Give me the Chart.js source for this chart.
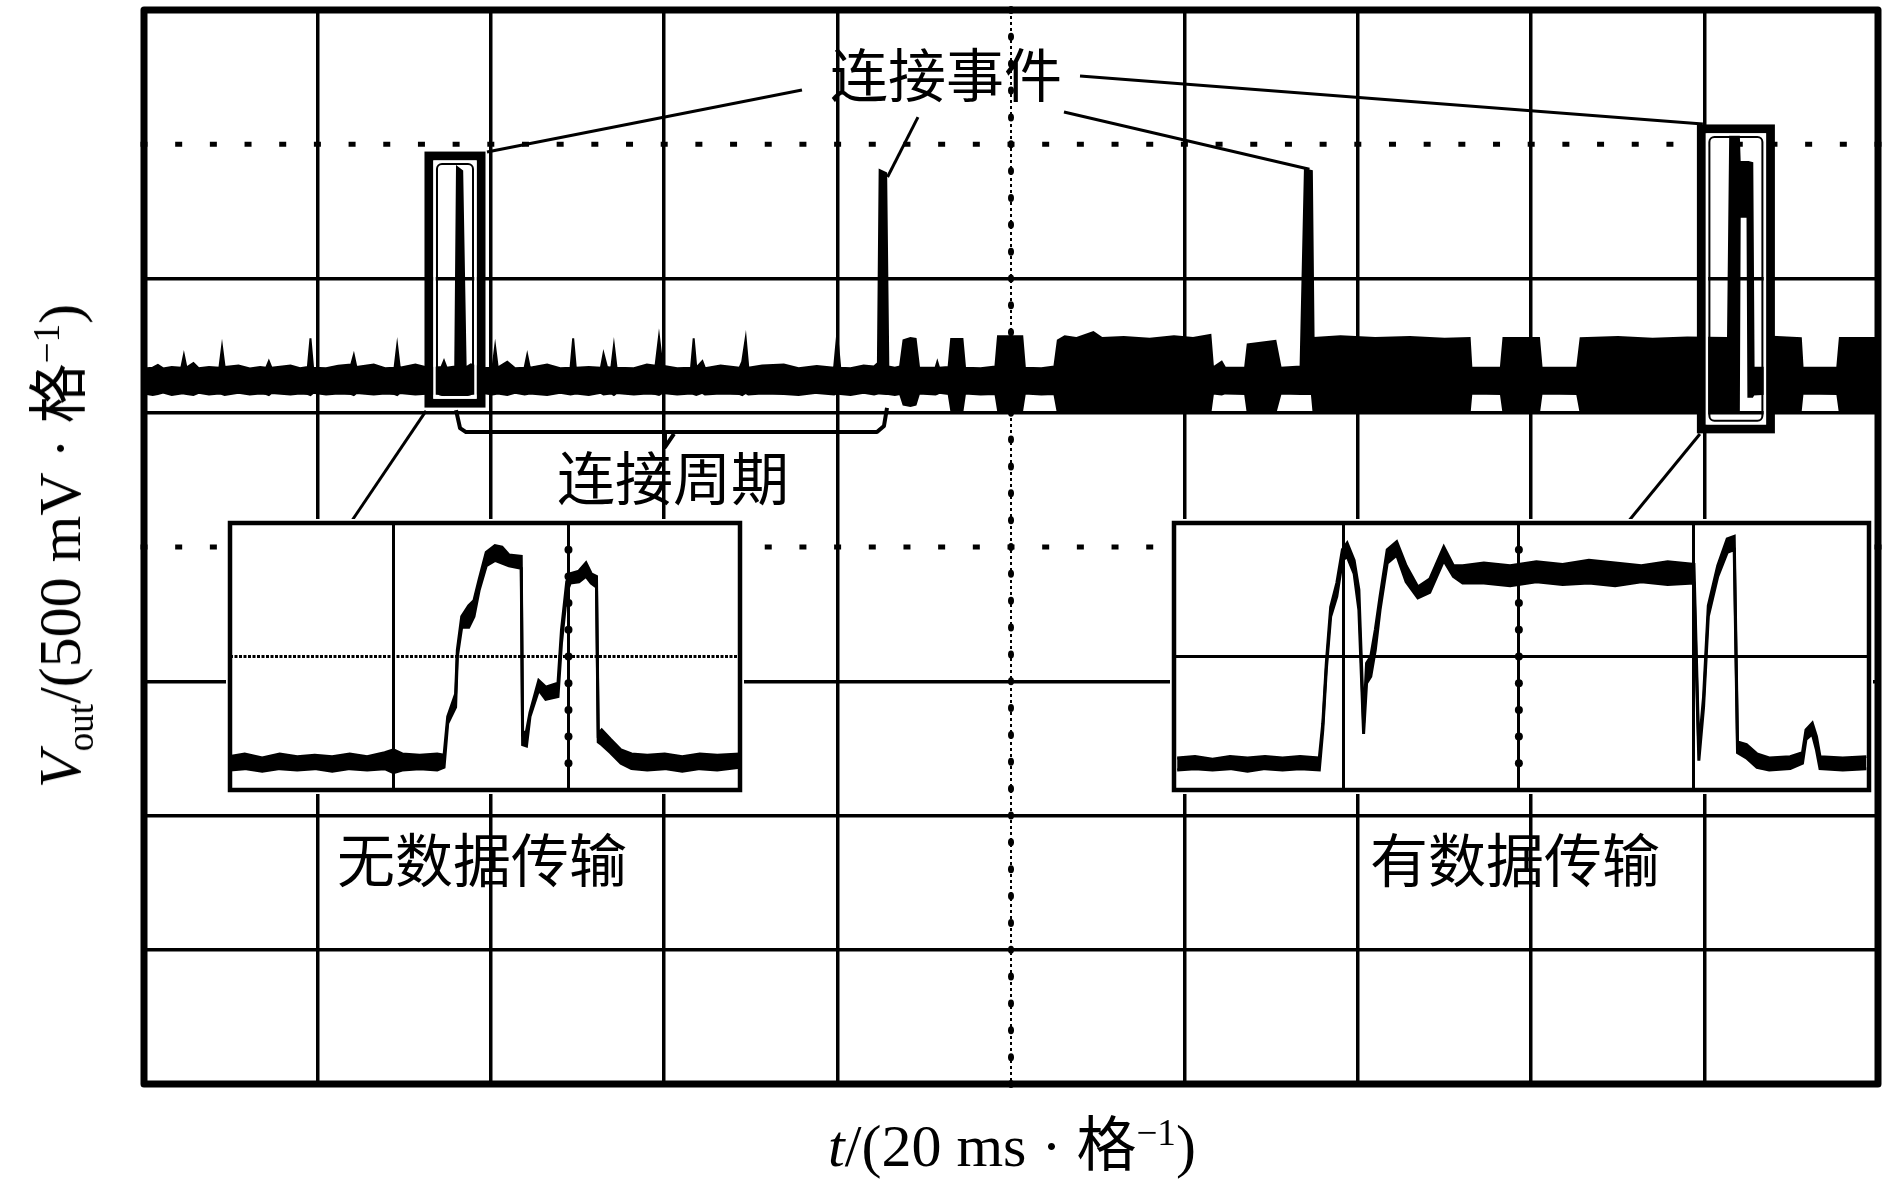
<!DOCTYPE html>
<html lang="zh-CN">
<head>
<meta charset="utf-8">
<title>连接事件波形</title>
<script src="https://cdn.jsdelivr.net/npm/chart.js@4.4.1/dist/chart.umd.min.js"></script>
<style>
  html, body { margin: 0; padding: 0; background: #fff; }
  body { width: 1896px; height: 1183px; position: relative; overflow: hidden; color: #000;
         font-family: "Liberation Serif", "Noto Sans CJK SC", serif; }
  canvas { position: absolute; }
  #mainChart { left: 0; top: 0; }
  #insetLeft { left: 226px; top: 519px; }
  #insetRight { left: 1170px; top: 519px; }
  .label { position: absolute; font-family: "Noto Sans CJK SC", sans-serif; font-size: 58px;
           line-height: 1; white-space: nowrap; transform: translate(-50%, -50%); }
  .axis-title { position: absolute; font-size: 60px; line-height: 1; white-space: nowrap;
                transform: translate(-50%, -50%); }
  sub, sup { font-size: 0.62em; line-height: 0; }
</style>
</head>
<body>
<canvas id="mainChart" width="1896" height="1183"></canvas>
<canvas id="insetLeft" width="518" height="275"></canvas>
<canvas id="insetRight" width="703" height="275"></canvas>

<div class="label" style="left:946px; top:72px;">连接事件</div>
<div class="label" style="left:673px; top:475px;">连接周期</div>
<div class="label" style="left:482px; top:857px;">无数据传输</div>
<div class="label" style="left:1515px; top:857px;">有数据传输</div>
<div class="axis-title" style="left:1012px; top:1146px;"><i>t</i>/(20 ms · 格<sup>−1</sup>)</div>
<div class="axis-title" style="left:60px; top:546px; transform: translate(-50%, -50%) rotate(-90deg);"><i>V</i><sub>out</sub>/(500 mV · 格<sup>−1</sup>)</div>

<script>
// main trace: time (ms), upper and lower edge of the trace band (V)
const mainT = [
  0.0, 1.0, 1.6, 2.2, 3.2, 4.3, 4.6, 4.9, 5.7, 6.3,
  7.5, 8.7, 9.0, 9.3, 10.9, 12.2, 13.4, 14.1, 14.4, 14.7,
  16.9, 18.0, 18.9, 19.2, 19.5, 21.0, 22.4, 23.9, 24.2, 24.5,
  26.5, 27.8, 28.9, 29.2, 29.5, 31.3, 33.0, 34.3, 34.6, 34.9,
  35.9, 36.1, 36.7, 37.1, 37.7, 38.9, 40.2, 40.5, 40.8, 41.9,
  42.8, 43.9, 44.2, 44.5, 46.5, 48.0, 49.2, 49.5, 49.8, 51.3,
  52.7, 53.0, 53.4, 53.9, 54.2, 54.5, 56.5, 58.0, 59.0, 59.4,
  59.8, 61.5, 63.1, 63.4, 63.7, 64.4, 64.7, 66.5, 68.7, 69.0,
  69.4, 69.7, 71.3, 73.8, 75.5, 77.6, 79.6, 79.95, 80.3, 81.5,
  83.0, 84.2, 84.65, 84.85, 85.6, 85.85, 86.6, 87.2, 87.6, 88.4,
  89.0, 89.4, 91.3, 91.5, 91.7, 92.8, 93.1, 94.4, 94.7, 96.5,
  98.2, 98.5, 101.3, 101.6, 103.5, 105.0, 105.4, 106.2, 107.5, 109.5,
  110.5, 113.0, 116.0, 118.8, 121.0, 123.0, 123.3, 124.3, 124.7, 127.0,
  127.3, 130.5, 131.1, 133.4, 133.9, 134.7, 134.9, 138.0, 142.0, 146.0,
  150.0, 152.9, 153.1, 156.5, 156.8, 160.9, 161.2, 165.3, 165.7, 170.0,
  174.0, 178.0, 182.7, 182.95, 183.95, 184.05, 184.95, 185.05, 185.5, 185.65,
  187.6, 187.9, 191.1, 191.3, 195.3, 195.6, 200.0
];
const mainHi = [
  0.665, 0.668, 0.678, 0.665, 0.670, 0.668, 0.715, 0.668, 0.685, 0.666,
  0.670, 0.668, 0.746, 0.670, 0.676, 0.665, 0.670, 0.668, 0.692, 0.668,
  0.676, 0.666, 0.670, 0.777, 0.668, 0.666, 0.675, 0.680, 0.715, 0.670,
  0.680, 0.666, 0.668, 0.750, 0.668, 0.680, 0.666, 0.670, 0.694, 0.668,
  0.672, 1.415, 1.400, 0.668, 0.680, 0.666, 0.668, 0.746, 0.668, 0.690,
  0.666, 0.668, 0.715, 0.668, 0.680, 0.666, 0.668, 0.777, 0.668, 0.670,
  0.668, 0.720, 0.670, 0.668, 0.750, 0.668, 0.666, 0.680, 0.675, 0.783,
  0.675, 0.666, 0.668, 0.777, 0.668, 0.692, 0.666, 0.676, 0.668, 0.690,
  0.777, 0.668, 0.676, 0.680, 0.666, 0.674, 0.668, 0.790, 0.668, 0.666,
  0.676, 0.672, 0.685, 1.404, 1.392, 0.672, 0.668, 0.672, 0.770, 0.778,
  0.775, 0.668, 0.668, 0.690, 0.668, 0.670, 0.775, 0.775, 0.668, 0.666,
  0.672, 0.785, 0.785, 0.668, 0.666, 0.672, 0.770, 0.785, 0.778, 0.800,
  0.778, 0.782, 0.776, 0.785, 0.778, 0.790, 0.668, 0.690, 0.668, 0.668,
  0.755, 0.768, 0.668, 0.672, 1.406, 1.400, 0.778, 0.785, 0.778, 0.782,
  0.776, 0.778, 0.668, 0.668, 0.778, 0.778, 0.668, 0.668, 0.778, 0.782,
  0.776, 0.780, 0.778, 1.530, 1.530, 1.434, 1.434, 1.434, 1.430, 0.668,
  0.668, 0.783, 0.778, 0.668, 0.668, 0.778, 0.778
];
const mainLo = [
  0.572, 0.566, 0.570, 0.575, 0.566, 0.572, 0.572, 0.570, 0.566, 0.574,
  0.568, 0.572, 0.570, 0.566, 0.574, 0.568, 0.572, 0.570, 0.566, 0.574,
  0.568, 0.572, 0.570, 0.566, 0.574, 0.568, 0.572, 0.570, 0.566, 0.574,
  0.568, 0.572, 0.570, 0.566, 0.574, 0.568, 0.572, 0.570, 0.566, 0.574,
  0.568, 0.568, 0.568, 0.572, 0.570, 0.574, 0.568, 0.570, 0.572, 0.566,
  0.574, 0.568, 0.570, 0.572, 0.566, 0.574, 0.568, 0.570, 0.572, 0.566,
  0.574, 0.568, 0.570, 0.572, 0.566, 0.574, 0.568, 0.572, 0.570, 0.566,
  0.574, 0.568, 0.572, 0.570, 0.566, 0.574, 0.568, 0.572, 0.570, 0.566,
  0.574, 0.568, 0.572, 0.570, 0.566, 0.574, 0.568, 0.572, 0.570, 0.566,
  0.574, 0.568, 0.572, 0.572, 0.570, 0.570, 0.566, 0.570, 0.530, 0.525,
  0.530, 0.572, 0.568, 0.570, 0.574, 0.570, 0.510, 0.505, 0.572, 0.568,
  0.570, 0.510, 0.510, 0.572, 0.568, 0.570, 0.500, 0.500, 0.505, 0.500,
  0.505, 0.500, 0.505, 0.500, 0.505, 0.500, 0.572, 0.568, 0.572, 0.570,
  0.500, 0.500, 0.572, 0.570, 0.570, 0.570, 0.500, 0.505, 0.500, 0.505,
  0.500, 0.500, 0.572, 0.570, 0.500, 0.500, 0.572, 0.570, 0.500, 0.505,
  0.500, 0.500, 0.500, 0.500, 0.500, 1.230, 1.230, 0.560, 0.560, 0.568,
  0.572, 0.510, 0.510, 0.572, 0.570, 0.500, 0.500
];

// left inset (no data): x in divisions, upper / lower edge in divisions
const leftX = [
  0.066, 0.15, 0.25, 0.35, 0.45, 0.55, 0.65, 0.75, 0.85, 0.95,
  1.0, 1.05, 1.15, 1.25, 1.289, 1.31, 1.355, 1.365, 1.39, 1.43,
  1.46, 1.49, 1.53, 1.58, 1.62, 1.66, 1.73, 1.738, 1.76, 1.78,
  1.83, 1.87, 1.94, 1.96, 1.99, 2.01, 2.06, 2.10, 2.13, 2.16,
  2.17, 2.19, 2.24, 2.30, 2.36, 2.45, 2.55, 2.65, 2.75, 2.85,
  2.98
];
const leftHi = [
  0.25, 0.27, 0.24, 0.27, 0.25, 0.26, 0.25, 0.27, 0.25, 0.28,
  0.30, 0.27, 0.26, 0.27, 0.26, 0.55, 0.72, 1.05, 1.30, 1.38,
  1.42, 1.58, 1.78, 1.83, 1.82, 1.76, 1.75, 0.42, 0.44, 0.58,
  0.82, 0.77, 0.80, 1.20, 1.56, 1.62, 1.64, 1.70, 1.62, 1.60,
  0.42, 0.45, 0.38, 0.30, 0.27, 0.26, 0.27, 0.25, 0.27, 0.26,
  0.27
];
const leftLo = [
  0.15, 0.16, 0.14, 0.16, 0.15, 0.16, 0.14, 0.16, 0.15, 0.16,
  0.13, 0.15, 0.16, 0.15, 0.17, 0.50, 0.62, 1.00, 1.22, 1.22,
  1.30, 1.50, 1.68, 1.72, 1.70, 1.68, 1.66, 0.34, 0.33, 0.55,
  0.75, 0.68, 0.70, 1.10, 1.48, 1.55, 1.56, 1.60, 1.55, 1.52,
  0.36, 0.34, 0.28, 0.20, 0.16, 0.15, 0.16, 0.14, 0.16, 0.15,
  0.17
];

// right inset (with data)
const rightX = [
  0.048, 0.15, 0.25, 0.35, 0.45, 0.55, 0.65, 0.75, 0.86, 0.88,
  0.90, 0.925, 0.96, 0.992, 1.019, 1.059, 1.086, 1.113, 1.13, 1.154,
  1.18, 1.207, 1.248, 1.302, 1.356, 1.423, 1.491, 1.571, 1.626, 1.679,
  1.8, 1.95, 2.1, 2.25, 2.4, 2.55, 2.7, 2.85, 3.0, 3.028,
  3.055, 3.082, 3.136, 3.19, 3.23, 3.249, 3.30, 3.36, 3.43, 3.55,
  3.62, 3.64, 3.676, 3.70, 3.72, 3.85, 3.985
];
const rightHi = [
  0.24, 0.25, 0.23, 0.25, 0.24, 0.25, 0.24, 0.25, 0.24, 0.50,
  0.95, 1.37, 1.55, 1.80, 1.85, 1.72, 1.50, 0.50, 0.95, 1.00,
  1.20, 1.45, 1.80, 1.86, 1.68, 1.52, 1.58, 1.82, 1.68, 1.68,
  1.70, 1.68, 1.71, 1.69, 1.72, 1.70, 1.68, 1.71, 1.69, 0.30,
  0.70, 1.38, 1.68, 1.88, 1.90, 0.36, 0.34, 0.27, 0.24, 0.25,
  0.28, 0.45, 0.50, 0.40, 0.25, 0.24, 0.25
];
const rightLo = [
  0.15, 0.16, 0.15, 0.16, 0.14, 0.16, 0.15, 0.16, 0.15, 0.45,
  0.90, 1.30, 1.45, 1.72, 1.75, 1.62, 1.35, 0.42, 0.80, 0.85,
  1.05, 1.35, 1.70, 1.76, 1.56, 1.44, 1.48, 1.72, 1.60, 1.55,
  1.55, 1.53, 1.56, 1.54, 1.55, 1.53, 1.56, 1.54, 1.55, 0.22,
  0.62, 1.30, 1.60, 1.78, 1.80, 0.28, 0.24, 0.17, 0.15, 0.16,
  0.20, 0.38, 0.42, 0.30, 0.16, 0.15, 0.16
];

// graticule: 20 ms and 0.5 V per division
const xGridTicks = [20, 40, 60, 80, 120, 140, 160, 180];
const yGridTicks = [-1.5, -1.0, -0.5, 0.5, 1.0];
const dottedLevels = [1.5, 0];
const centerTime = 100;

// annotations, in data units (ms, V)
const eventBoxes = [
  { t0: 32.87, t1: 38.87, v0: 0.536, v1: 1.456 },
  { t0: 179.63, t1: 187.59, v0: 0.440, v1: 1.557 },
];
const leaderLines = [
  [75.89, 1.702, 39.56, 1.471],
  [89.27, 1.601, 85.76, 1.378],
  [106.11, 1.620, 134.42, 1.407],
  [107.96, 1.754, 179.80, 1.575],
  [32.53, 0.507, 23.88, 0.093],
  [179.46, 0.421, 171.15, 0.093],
];
const bracketPath = [
  [35.99, 0.510], [36.45, 0.443], [37.14, 0.428], [84.54, 0.428], [85.35, 0.451], [85.70, 0.518]
];
const bracketTick = [[60.09, 0.428], [60.09, 0.372], [61.13, 0.421]];

function toPoints(xs, ys) {
  return xs.map((v, i) => ({ x: v, y: ys[i] }));
}

function traceDatasets(xs, hi, lo, width) {
  return [
    {
      label: "upper",
      data: toPoints(xs, hi),
      borderColor: "#000",
      backgroundColor: "#000",
      borderWidth: width,
      fill: "+1",
      pointRadius: 0,
      tension: 0,
    },
    {
      label: "lower",
      data: toPoints(xs, lo),
      borderColor: "#000",
      borderWidth: width,
      fill: false,
      pointRadius: 0,
      tension: 0,
    },
  ];
}

// dotted lines, boxes, leader lines and the frame of the main screen
const scopeMarks = {
  id: "scopeMarks",
  beforeDatasetsDraw(chart) {
    const { ctx, chartArea: a, scales: { x, y } } = chart;
    ctx.save();
    ctx.fillStyle = "#000";
    dottedLevels.forEach((v) => {
      const py = y.getPixelForValue(v);
      for (let t = 0; t <= 200; t += 4) {
        ctx.fillRect(x.getPixelForValue(t) - 3.5, py - 2.5, 7, 5);
      }
    });
    const cx = x.getPixelForValue(centerTime);
    ctx.strokeStyle = "#000";
    ctx.lineWidth = 2;
    ctx.setLineDash([3, 3]);
    ctx.beginPath();
    ctx.moveTo(cx, a.top);
    ctx.lineTo(cx, a.bottom);
    ctx.stroke();
    ctx.setLineDash([]);
    for (let k = -20; k <= 20; k++) {
      ctx.beginPath();
      ctx.ellipse(cx, y.getPixelForValue(k * 0.1), 3, 4, 0, 0, Math.PI * 2);
      ctx.fill();
    }
    ctx.restore();
  },
  afterDatasetsDraw(chart) {
    const { ctx, chartArea: a, scales: { x, y } } = chart;
    ctx.save();
    eventBoxes.forEach((b) => {
      const x0 = x.getPixelForValue(b.t0);
      const x1 = x.getPixelForValue(b.t1);
      const y0 = y.getPixelForValue(b.v1);
      const y1 = y.getPixelForValue(b.v0);
      ctx.strokeStyle = "#000";
      ctx.lineWidth = 9;
      ctx.strokeRect(x0, y0, x1 - x0, y1 - y0);
      ctx.strokeStyle = "#fff";
      ctx.lineWidth = 2.5;
      ctx.strokeRect(x0 + 5.5, y0 + 5.5, x1 - x0 - 11, y1 - y0 - 11);
      ctx.strokeStyle = "#000";
      ctx.lineWidth = 2;
      ctx.beginPath();
      ctx.roundRect(x0 + 8, y0 + 8, x1 - x0 - 16, y1 - y0 - 16, 5);
      ctx.stroke();
    });

    ctx.strokeStyle = "#000";
    ctx.lineWidth = 3;
    leaderLines.forEach(([t0, v0, t1, v1]) => {
      ctx.beginPath();
      ctx.moveTo(x.getPixelForValue(t0), y.getPixelForValue(v0));
      ctx.lineTo(x.getPixelForValue(t1), y.getPixelForValue(v1));
      ctx.stroke();
    });

    ctx.lineWidth = 4;
    ctx.lineJoin = "round";
    [bracketPath, bracketTick].forEach((path) => {
      ctx.beginPath();
      path.forEach(([t, v], i) => {
        const px = x.getPixelForValue(t);
        const py = y.getPixelForValue(v);
        if (i === 0) ctx.moveTo(px, py);
        else ctx.lineTo(px, py);
      });
      ctx.stroke();
    });

    ctx.lineWidth = 7;
    ctx.strokeRect(a.left, a.top, a.right - a.left, a.bottom - a.top);
    ctx.restore();
  },
};

// white screen, marked centre line and frame of an inset
const insetMarks = {
  id: "insetMarks",
  beforeDraw(chart) {
    const { ctx } = chart;
    ctx.save();
    ctx.fillStyle = "#fff";
    ctx.fillRect(0, 0, chart.width, chart.height);
    ctx.restore();
  },
  beforeDatasetsDraw(chart) {
    const { ctx, scales: { x, y } } = chart;
    const cx = x.getPixelForValue(2);
    ctx.save();
    ctx.fillStyle = "#000";
    for (let k = 1; k < 10; k++) {
      ctx.beginPath();
      ctx.ellipse(cx, y.getPixelForValue(k * 0.2), 4, 4, 0, 0, Math.PI * 2);
      ctx.fill();
    }
    ctx.restore();
  },
  afterDatasetsDraw(chart) {
    const { ctx, chartArea: a } = chart;
    ctx.save();
    ctx.strokeStyle = "#000";
    ctx.lineWidth = 4.5;
    ctx.strokeRect(a.left, a.top, a.right - a.left, a.bottom - a.top);
    ctx.restore();
  },
};

const mainOptions = {
  responsive: false,
  animation: false,
  layout: { padding: { left: 144, top: 10, right: 18, bottom: 99 } },
  plugins: { legend: { display: false }, tooltip: { enabled: false } },
  scales: {
    x: {
      type: "linear",
      min: 0,
      max: 200,
      afterBuildTicks: (axis) => {
        axis.ticks = xGridTicks.map((v) => ({ value: v }));
      },
      ticks: { display: false },
      grid: { color: "#000", lineWidth: 3.5, drawTicks: false },
      border: { display: false },
    },
    y: {
      type: "linear",
      min: -2,
      max: 2,
      afterBuildTicks: (axis) => {
        axis.ticks = yGridTicks.map((v) => ({ value: v }));
      },
      ticks: { display: false },
      grid: { color: "#000", lineWidth: 3.5, drawTicks: false },
      border: { display: false },
    },
  },
};

function insetOptions(xMin, xMax, xTicks, yDash) {
  return {
    responsive: false,
    animation: false,
    layout: { padding: 4 },
    plugins: { legend: { display: false }, tooltip: { enabled: false } },
    scales: {
      x: {
        type: "linear",
        min: xMin,
        max: xMax,
        afterBuildTicks: (axis) => {
          axis.ticks = xTicks.map((v) => ({ value: v }));
        },
        ticks: { display: false },
        grid: { color: "#000", lineWidth: 3, drawTicks: false },
        border: { display: false },
      },
      y: {
        type: "linear",
        min: 0,
        max: 2,
        afterBuildTicks: (axis) => {
          axis.ticks = [{ value: 1 }];
        },
        ticks: { display: false },
        grid: { color: "#000", lineWidth: 3, drawTicks: false },
        border: { display: false, dash: yDash || [] },
      },
    },
  };
}

const mainChart = new Chart(document.getElementById("mainChart"), {
  type: "line",
  data: { datasets: traceDatasets(mainT, mainHi, mainLo, 2) },
  options: mainOptions,
  plugins: [scopeMarks],
});

const leftChart = new Chart(document.getElementById("insetLeft"), {
  type: "line",
  data: { datasets: traceDatasets(leftX, leftHi, leftLo, 3) },
  options: insetOptions(0.066, 2.98, [1, 2], [3, 1.5]),
  plugins: [insetMarks],
});

const rightChart = new Chart(document.getElementById("insetRight"), {
  type: "line",
  data: { datasets: traceDatasets(rightX, rightHi, rightLo, 3) },
  options: insetOptions(0.03, 4.0, [1, 2, 3], null),
  plugins: [insetMarks],
});
</script>
</body>
</html>
